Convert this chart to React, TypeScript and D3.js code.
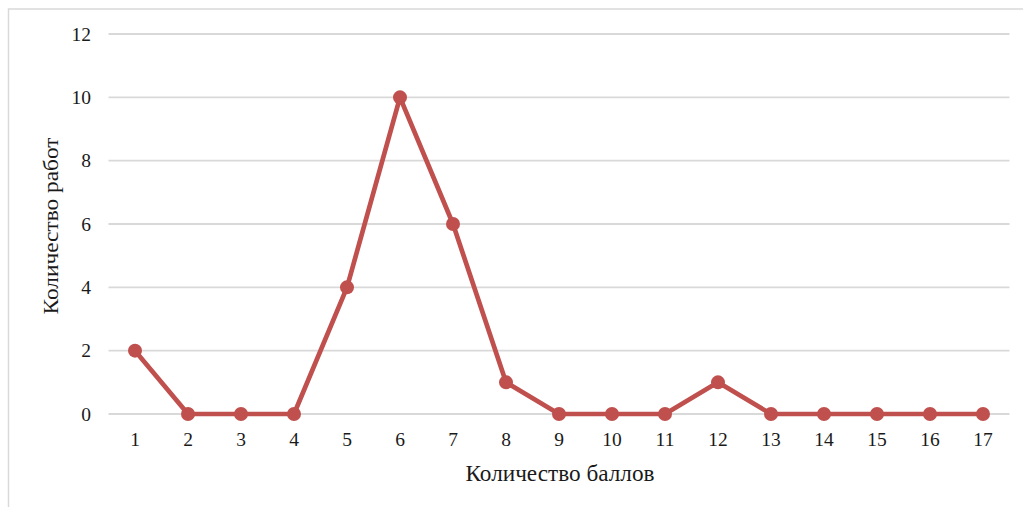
import React from "react";
import * as d3 from "d3";

const categories = ["1","2","3","4","5","6","7","8","9","10","11","12","13","14","15","16","17"];
const values = [2,0,0,0,4,10,6,1,0,0,0,1,0,0,0,0,0];
const yTicks = [0,2,4,6,8,10,12];

const W = 1023, H = 507;
const left = 108.5, right = 1009.5, top = 34, bottom = 414;

export default function App() {
  const x = d3.scaleBand<string>().domain(categories).range([left, right]);
  const y = d3.scaleLinear().domain([0, 12]).range([bottom, top]);
  const cx = (c: string) => (x(c) as number) + x.bandwidth() / 2;
  const line = d3.line<number>().x((_, i) => cx(categories[i])).y(d => y(d));
  const font = "Liberation Serif";
  return (
    <svg width={W} height={H} style={{ position: "absolute", left: 0, top: 0, background: "#fff", fontFamily: font }}>
      <rect x={8.5} y={9} width={W + 10} height={H + 10} fill="none" stroke="#d9d9d9" strokeWidth={1.5} />
      {yTicks.map(t => (
        <g key={t}>
          <line x1={left} x2={right} y1={y(t)} y2={y(t)} stroke="#d9d9d9" strokeWidth={1.8} />
          <text x={91} y={y(t)} dy="0.35em" textAnchor="end" fontSize={19.5} fill="#1a1a1a">{t}</text>
        </g>
      ))}
      {categories.map(c => (
        <text key={c} x={cx(c)} y={446} textAnchor="middle" fontSize={19.5} fill="#1a1a1a">{c}</text>
      ))}
      <path d={line(values) as string} fill="none" stroke="#c0504d" strokeWidth={4.7} strokeLinejoin="round" />
      {values.map((v, i) => (
        <circle key={i} cx={cx(categories[i])} cy={y(v)} r={7} fill="#c0504d" />
      ))}
      <text x={560} y={481} textAnchor="middle" fontSize={24} fill="#1a1a1a" textLength={189} lengthAdjust="spacingAndGlyphs">Количество баллов</text>
      <text transform={`translate(58,226) rotate(-90)`} textAnchor="middle" fontSize={22} fill="#1a1a1a" textLength={177} lengthAdjust="spacingAndGlyphs">Количество работ</text>
    </svg>
  );
}
